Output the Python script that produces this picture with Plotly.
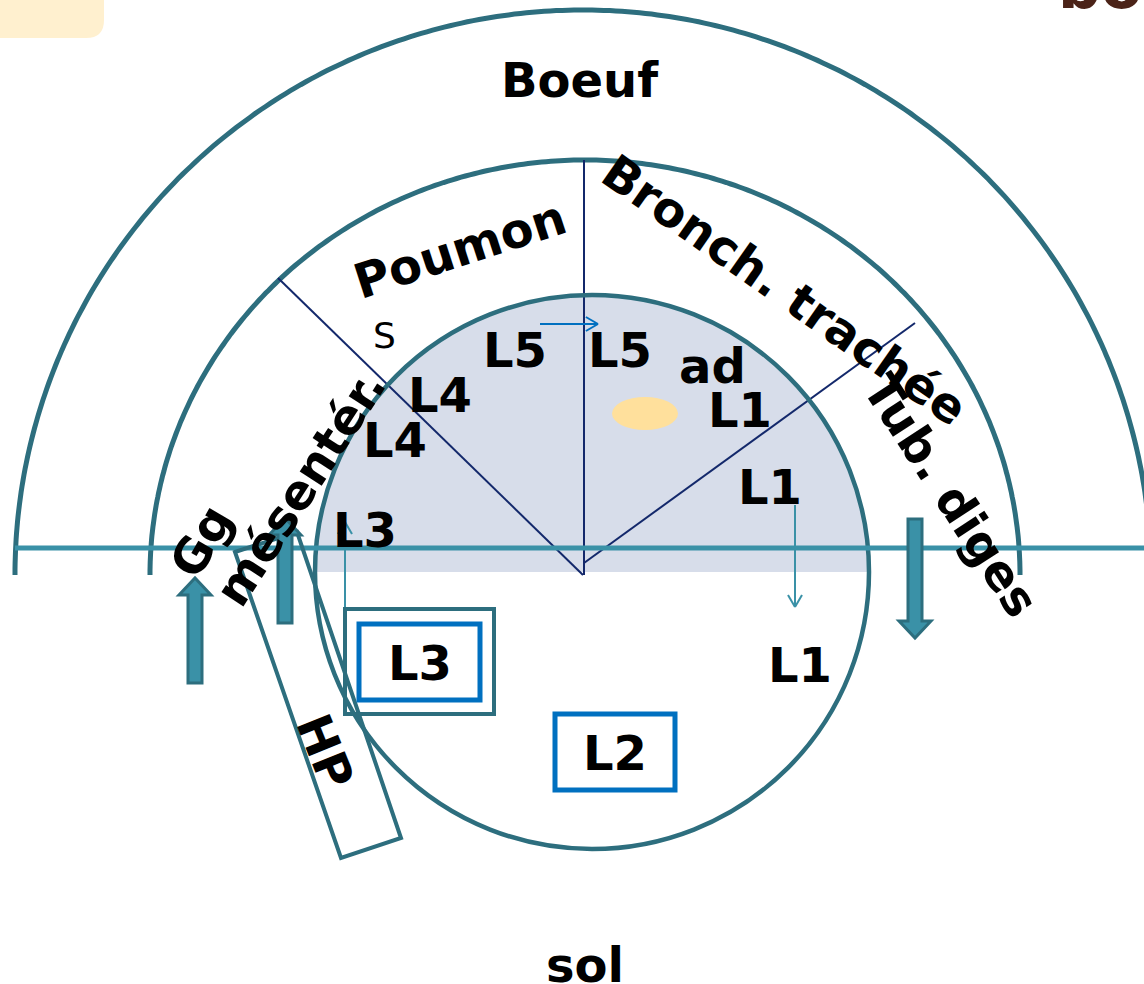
import numpy as np
import plotly.graph_objects as go

W, H = 1144, 984

# ---- content ----
big_labels = ["Boeuf", "L5", "L5", "ad", "L1", "L1", "L4", "L4", "L3", "L1", "sol"]
big_x = [580, 515, 620, 712, 740, 770, 440, 395, 365, 800, 585]
big_y = [80, 350, 350, 366, 410, 487, 395, 440, 530, 665, 965]

rot_labels = ["Poumon", "Bronch. trachée", "Tub. diges", "mésentér.", "Gg", "HP"]
rot_x = [460, 785, 951, 300, 201, 325]
rot_y = [249, 290, 495, 488, 541, 751]
rot_angle = [-18, 35, 57, -57, -60, 68]

box_labels = ["L3", "L2"]
box_x = [420, 615]
box_y = [663, 753]

TEAL = "#2D6E7E"
TEAL2 = "#3A91A7"
NAVY = "#13286B"
BLUE = "#0070C0"
FONT = "DejaVu Sans"

shapes = []

def path_from(xs, ys, close=False):
    p = "M " + " L ".join(f"{x:.1f},{y:.1f}" for x, y in zip(xs, ys))
    return p + (" Z" if close else "")

# top-left rounded yellow tab
shapes.append(dict(type="path", path="M 0,0 L 104,0 L 104,20 Q 104,38 86,38 L 0,38 Z",
                   fillcolor="#FFF0CF", line=dict(width=0), layer="below"))

# light blue upper half of inner circle
cx, cy, r = 592, 572, 277
t = np.linspace(0, np.pi, 200)
fx = cx + r * np.cos(t)
fy = cy - r * np.sin(t)
ok = fy <= 575
shapes.append(dict(type="path", path=path_from(fx[ok], fy[ok], close=True),
                   fillcolor="#D7DDEA", line=dict(width=0), layer="below"))

# outer arc
t2 = np.linspace(0, np.pi, 300)
shapes.append(dict(type="path", path=path_from(583 + 568 * np.cos(t2), 575 - 565 * np.sin(t2)),
                   line=dict(color=TEAL, width=5)))
# middle arc
shapes.append(dict(type="path", path=path_from(585 + 435 * np.cos(t2), 575 - 415 * np.sin(t2)),
                   line=dict(color=TEAL, width=5)))

# dividing lines
for (x0, y0, x1, y1) in [(583, 575, 278, 278), (584, 160, 584, 575), (584, 563, 915, 323)]:
    shapes.append(dict(type="line", x0=x0, y0=y0, x1=x1, y1=y1, line=dict(color=NAVY, width=2)))

# inner circle
shapes.append(dict(type="circle", x0=cx - r, y0=cy - r, x1=cx + r, y1=cy + r,
                   line=dict(color=TEAL, width=4.5)))

# horizontal ground line
shapes.append(dict(type="line", x0=15, y0=548, x1=1144, y1=548, line=dict(color=TEAL2, width=5)))

# yellow ellipse
shapes.append(dict(type="circle", x0=612, y0=397, x1=678, y1=430,
                   fillcolor="#FFE09C", line=dict(width=0)))

# HP tilted rectangle
hx = [235, 297, 401, 341]
hy = [552, 532, 838, 858]
shapes.append(dict(type="path", path=path_from(hx, hy, close=True), line=dict(color=TEAL, width=4)))

# boxes
shapes.append(dict(type="rect", x0=345, y0=609, x1=494, y1=714, line=dict(color=TEAL, width=4)))
shapes.append(dict(type="rect", x0=359, y0=624, x1=480, y1=700, line=dict(color=BLUE, width=5)))
shapes.append(dict(type="rect", x0=555, y0=714, x1=675, y1=790, line=dict(color=BLUE, width=5)))

# thin arrows with open heads
def thin_arrow(x0, y0, x1, y1, color, width=2, head=14):
    shapes.append(dict(type="line", x0=x0, y0=y0, x1=x1, y1=y1, line=dict(color=color, width=width)))
    a = np.arctan2(y1 - y0, x1 - x0)
    for s in (1, -1):
        b = a + np.pi - s * np.radians(30)
        shapes.append(dict(type="line", x0=x1, y0=y1, x1=x1 + head * np.cos(b), y1=y1 + head * np.sin(b),
                           line=dict(color=color, width=width)))

thin_arrow(540, 324, 598, 324, BLUE)
thin_arrow(795, 505, 795, 607, TEAL2)
thin_arrow(345, 607, 345, 522, TEAL2)

# thick block arrows
def block_arrow(xc, y_tail, y_tip, shaft=14, headw=32, headl=17):
    d = 1 if y_tip > y_tail else -1
    yb = y_tip - d * headl
    xs = [xc - shaft / 2, xc - shaft / 2, xc - headw / 2, xc, xc + headw / 2, xc + shaft / 2, xc + shaft / 2]
    ys = [y_tail, yb, yb, y_tip, yb, yb, y_tail]
    shapes.append(dict(type="path", path=path_from(xs, ys, close=True),
                       fillcolor=TEAL2, line=dict(color=TEAL, width=3)))

block_arrow(195, 683, 578)
block_arrow(285, 623, 518)
block_arrow(915, 519, 638)

annotations = []
for txt, x, y in zip(big_labels, big_x, big_y):
    annotations.append(dict(x=x, y=y, text=txt, showarrow=False, xanchor="center", yanchor="middle",
                            font=dict(family=FONT, size=48, color="black", weight="bold")))
for txt, x, y, a in zip(rot_labels, rot_x, rot_y, rot_angle):
    annotations.append(dict(x=x, y=y, text=txt, showarrow=False, textangle=a, xanchor="center",
                            yanchor="middle", font=dict(family=FONT, size=48, color="black", weight="bold")))
for txt, x, y in zip(box_labels, box_x, box_y):
    annotations.append(dict(x=x, y=y, text=txt, showarrow=False, xanchor="center", yanchor="middle",
                            font=dict(family=FONT, size=48, color="black", weight="bold")))
annotations.append(dict(x=384, y=335, text="S", showarrow=False, xanchor="center", yanchor="middle",
                        font=dict(family=FONT, size=36, color="black")))
annotations.append(dict(x=1056, y=24, text="bo", showarrow=False, xanchor="left", yanchor="bottom",
                        font=dict(family=FONT, size=60, color="#4B2318", weight="bold")))

fig = go.Figure()
fig.update_layout(
    width=W, height=H, margin=dict(l=0, r=0, t=0, b=0),
    paper_bgcolor="white", plot_bgcolor="white",
    xaxis=dict(range=[0, W], visible=False, fixedrange=True),
    yaxis=dict(range=[H, 0], visible=False, fixedrange=True),
    shapes=shapes, annotations=annotations, showlegend=False,
)
fig.write_html("out.html", config={"displayModeBar": False},
               post_script="document.body.style.margin='0';document.body.style.overflow='hidden';")
